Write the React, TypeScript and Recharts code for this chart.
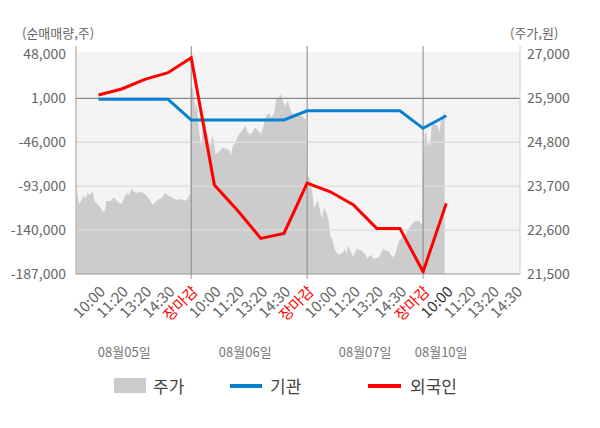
import React from "react";
import { ComposedChart, Area, Line, XAxis, YAxis, ReferenceLine, ReferenceArea } from "recharts";

const FONT = '"Noto Sans CJK KR", "Noto Sans", sans-serif';

// x축: 하루 5칸 (10:00, 11:20, 13:20, 14:30, 장마감)
const timeLabels = ["10:00", "11:20", "13:20", "14:30", "장마감"];
const timeTicks = [1, 2, 3, 4, 5, 6, 7, 8, 9, 10, 11, 12, 13, 14, 15, 16, 17, 18, 19];
const dayBreaks = [5, 10, 15];
const dateLabels = ["08월05일", "08월06일", "08월07일", "08월10일"];
const datePositions = [2.11, 7.33, 12.5, 15.78];

const leftTicks = [48000, 1000, -46000, -93000, -140000, -187000];
const rightTicks = [27000, 25900, 24800, 23700, 22600, 21500];
const gridValues = [-46000, -93000, -140000];

// 순매매량 (누적, 주)
const flowSlots = [1, 2, 3, 4, 5, 6, 7, 8, 9, 10, 11, 12, 13, 14, 15, 16];
const institution = [0, 0, 0, 0, -22200, -22200, -22200, -22200, -22200, -12300, -12300, -12300, -12300, -12300, -31100, -17600];
const foreigner = [4500, 11000, 21300, 28400, 44500, -91800, -119000, -148900, -143500, -89700, -99000, -113200, -138200, -138200, -184600, -111400];

// 주가 (원) [slot, price]
const priceDay1: [number, number][] = [
  [0.07, 23580], [0.16, 23250], [0.25, 23330], [0.36, 23460], [0.46, 23390], [0.53, 23530], [0.65, 23480],
  [0.75, 23580], [0.82, 23330], [0.96, 23250], [1.08, 23170], [1.18, 23060], [1.28, 23080], [1.34, 23330],
  [1.54, 23330], [1.65, 23420], [1.8, 23320], [1.9, 23270], [2.0, 23250], [2.11, 23420], [2.23, 23530],
  [2.33, 23480], [2.43, 23630], [2.54, 23560], [2.69, 23530], [2.8, 23560], [2.9, 23540], [3.05, 23480],
  [3.19, 23380], [3.33, 23230], [3.48, 23320], [3.62, 23380], [3.76, 23420], [3.87, 23530], [4.01, 23460],
  [4.15, 23420], [4.27, 23380], [4.41, 23360], [4.56, 23380], [4.7, 23330], [4.84, 23380], [4.91, 23480],
  [4.96, 23480],
];
const priceDay2: [number, number][] = [
  [4.97, 26130], [5.04, 26210], [5.1, 26040], [5.19, 25630], [5.25, 25790], [5.3, 25290], [5.39, 24830],
  [5.44, 24710], [5.5, 25210], [5.59, 25420], [5.65, 25130], [5.73, 24920], [5.82, 24710], [5.91, 24960],
  [5.99, 24790], [6.05, 24500], [6.15, 24540], [6.29, 24630], [6.39, 24670], [6.51, 24630], [6.63, 24610],
  [6.71, 24460], [6.8, 24710], [6.91, 24790], [7.01, 24960], [7.16, 25060], [7.25, 25130], [7.34, 25210],
  [7.44, 25040], [7.54, 25000], [7.63, 25040], [7.73, 25170], [7.83, 25130], [7.92, 25060], [8.02, 25000],
  [8.12, 25210], [8.23, 25460], [8.35, 25540], [8.46, 25420], [8.59, 25540], [8.66, 25880], [8.78, 25920],
  [8.88, 26000], [8.95, 25830], [9.05, 25710], [9.17, 25830], [9.27, 25630], [9.38, 25500], [9.53, 25540],
  [9.67, 25460], [9.81, 25460], [9.88, 25390], [9.95, 25390],
];
const priceDay3: [number, number][] = [
  [9.99, 23960], [10.09, 23920], [10.16, 23710], [10.22, 23540], [10.29, 23170], [10.36, 23210], [10.43, 23330],
  [10.5, 23250], [10.57, 23040], [10.65, 22880], [10.72, 23170], [10.79, 23080], [10.86, 23000], [10.94, 22790],
  [11.0, 22460], [11.08, 22380], [11.15, 22210], [11.22, 22080], [11.34, 21980], [11.44, 22000], [11.54, 22040],
  [11.63, 22130], [11.69, 22000], [11.77, 22210], [11.87, 22080], [11.97, 21920], [12.06, 22040], [12.16, 22130],
  [12.25, 22100], [12.37, 22080], [12.49, 22000], [12.59, 21890], [12.66, 21940], [12.76, 21980], [12.86, 21890],
  [12.97, 21890], [13.09, 21920], [13.2, 22040], [13.29, 22140], [13.37, 22080], [13.49, 22080], [13.59, 22000],
  [13.69, 21920], [13.81, 22000], [13.89, 22210], [13.98, 22330], [14.09, 22420], [14.24, 22500], [14.38, 22630],
  [14.53, 22750], [14.67, 22820], [14.81, 22830], [14.93, 22750], [14.96, 22750],
];
const priceDay4: [number, number][] = [
  [14.98, 24210], [15.03, 24630], [15.07, 25000], [15.13, 25080], [15.19, 24710], [15.25, 24830], [15.3, 24670],
  [15.36, 25170], [15.42, 25250], [15.47, 25290], [15.53, 25210], [15.59, 25250], [15.65, 25170], [15.7, 25040],
  [15.76, 25290], [15.82, 25380], [15.87, 25500], [15.93, 25580],
];

const X_DOMAIN: [number, number] = [0.03, 19.18];

const priceData = [...priceDay1, ...priceDay2, ...priceDay3, ...priceDay4].map(([x, price]) => ({ x, price }));
const flowData = flowSlots.map((x, i) => ({ x, inst: institution[i], foreign: foreigner[i] }));

const fmt = (v: number) => v.toLocaleString("en-US");

const TimeTick = (props: any) => {
  const { x, y, payload } = props;
  const v = payload.value as number;
  const label = timeLabels[(v - 1) % 5];
  const fill = label === "장마감" ? "#ff0000" : v === 16 ? "#333" : "#666";
  return (
    <g transform={`translate(${x},${y})`}>
      {label === "장마감" && <line x1={0} y1={-11} x2={0} y2={-6} stroke="#999" />}
      <text x={0} y={0} dy="0.71em" textAnchor="end" transform="rotate(-45)" fill={fill} fontSize={15} fontFamily={FONT}>
        {label}
      </text>
    </g>
  );
};

export default function App() {
  return (
    <div style={{ position: "absolute", left: 0, top: 0, width: 600, height: 428, background: "#fff", fontFamily: FONT }}>
      <div style={{ position: "absolute", left: 22, top: 24, fontSize: 13, lineHeight: "18px", color: "#666" }}>(순매매량,주)</div>
      <div style={{ position: "absolute", left: 510, top: 24, fontSize: 13, lineHeight: "18px", color: "#666" }}>(주가,원)</div>
      <ComposedChart width={600} height={428} margin={{ top: 46, right: 10, bottom: 58, left: 6 }}>
        <XAxis
          dataKey="x"
          type="number"
          domain={X_DOMAIN}
          allowDataOverflow
          ticks={timeTicks}
          interval={0}
          tick={<TimeTick />}
          tickLine={false}
          tickSize={5}
          tickMargin={6}
          height={66}
          axisLine={{ stroke: "#999" }}
        />
        <XAxis
          xAxisId="date"
          dataKey="x"
          type="number"
          domain={X_DOMAIN}
          allowDataOverflow
          ticks={datePositions}
          interval={0}
          tickFormatter={(v: number) => dateLabels[datePositions.indexOf(v)]}
          tick={{ fill: "#777", fontSize: 13, fontFamily: FONT }}
          axisLine={false}
          tickLine={false}
          tickSize={0}
          tickMargin={8}
          height={30}
        />
        <YAxis
          yAxisId="left"
          domain={[-187000, 57000]}
          allowDataOverflow
          ticks={leftTicks}
          interval={0}
          tickFormatter={fmt}
          tick={{ fill: "#666", fontSize: 14, fontFamily: FONT }}
          tickLine={false}
          tickSize={6}
          tickMargin={4}
          width={70}
          axisLine={{ stroke: "#999" }}
        />
        <YAxis
          yAxisId="right"
          orientation="right"
          domain={[21500, 27210]}
          allowDataOverflow
          ticks={rightTicks}
          interval={0}
          tickFormatter={fmt}
          tick={{ fill: "#666", fontSize: 14, fontFamily: FONT }}
          tickLine={false}
          tickSize={6}
          tickMargin={1}
          width={70}
          axisLine={{ stroke: "#ccc" }}
        />
        <ReferenceArea yAxisId="left" x1={X_DOMAIN[0]} x2={X_DOMAIN[1]} y1={-187000} y2={50500} fill="#f4f4f4" fillOpacity={1} stroke="none" />
        <Area
          yAxisId="right"
          data={priceData}
          dataKey="price"
          type="linear"
          fill="#cccccc"
          fillOpacity={1}
          stroke="none"
          isAnimationActive={false}
          name="주가"
        />
        {gridValues.map((v) => (
          <ReferenceLine key={v} yAxisId="left" y={v} stroke="#dcdcdc" strokeWidth={1.3} />
        ))}
        <ReferenceLine yAxisId="left" y={1000} stroke="#888" strokeWidth={1.3} />
        {dayBreaks.map((v) => (
          <ReferenceLine key={v} yAxisId="left" x={v} stroke="#888" />
        ))}
        <Line
          yAxisId="left"
          data={flowData}
          dataKey="inst"
          type="linear"
          stroke="#0a80d0"
          strokeWidth={3}
          dot={false}
          isAnimationActive={false}
          name="기관"
        />
        <Line
          yAxisId="left"
          data={flowData}
          dataKey="foreign"
          type="linear"
          stroke="#ff0000"
          strokeWidth={3}
          dot={false}
          isAnimationActive={false}
          name="외국인"
        />
      </ComposedChart>
      <div style={{ position: "absolute", left: 0, top: 376, width: 600, height: 20, fontSize: 17, lineHeight: "20px", color: "#444" }}>
        <span style={{ position: "absolute", left: 114, top: 2, width: 32, height: 15, background: "#cccccc" }} />
        <span style={{ position: "absolute", left: 153, top: 0 }}>주가</span>
        <span style={{ position: "absolute", left: 230, top: 8, width: 32, height: 4, background: "#0a80d0" }} />
        <span style={{ position: "absolute", left: 270, top: 0 }}>기관</span>
        <span style={{ position: "absolute", left: 368, top: 8, width: 33, height: 4, background: "#ff0000" }} />
        <span style={{ position: "absolute", left: 410, top: 0 }}>외국인</span>
      </div>
    </div>
  );
}
